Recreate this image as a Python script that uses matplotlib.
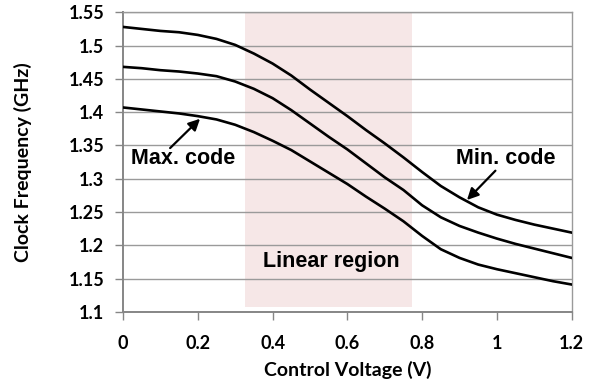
import numpy as np
import matplotlib
matplotlib.use('Agg')
import matplotlib.pyplot as plt

# Control voltage (V) sample points
volts = [0.0, 0.05, 0.1, 0.15, 0.2, 0.25, 0.3, 0.35, 0.4, 0.45, 0.5, 0.55, 0.6,
         0.65, 0.7, 0.75, 0.8, 0.85, 0.9, 0.95, 1.0, 1.05, 1.1, 1.15, 1.2]

# Clock frequency (GHz) for the three codes
freq_min_code = [1.528, 1.525, 1.522, 1.520, 1.516, 1.510, 1.501, 1.488, 1.473,
                 1.455, 1.434, 1.414, 1.394, 1.373, 1.353, 1.332, 1.310, 1.289,
                 1.272, 1.257, 1.246, 1.238, 1.231, 1.225, 1.219]
freq_mid_code = [1.468, 1.466, 1.463, 1.461, 1.458, 1.454, 1.446, 1.435, 1.421,
                 1.403, 1.383, 1.363, 1.344, 1.323, 1.302, 1.283, 1.260, 1.242,
                 1.229, 1.219, 1.210, 1.202, 1.195, 1.188, 1.181]
freq_max_code = [1.407, 1.404, 1.401, 1.398, 1.394, 1.389, 1.381, 1.370, 1.357,
                 1.343, 1.326, 1.309, 1.292, 1.273, 1.255, 1.236, 1.214, 1.194,
                 1.181, 1.171, 1.164, 1.158, 1.152, 1.146, 1.141]

linear_region = (0.325, 0.773)
x_ticks = [0, 0.2, 0.4, 0.6, 0.8, 1.0, 1.2]
x_tick_labels = ['0', '0.2', '0.4', '0.6', '0.8', '1', '1.2']
y_ticks = [1.1, 1.15, 1.2, 1.25, 1.3, 1.35, 1.4, 1.45, 1.5, 1.55]
y_tick_labels = ['1.1', '1.15', '1.2', '1.25', '1.3', '1.35', '1.4', '1.45', '1.5', '1.55']

TICK_FONT = 'Lato'
NOTE_FONT = 'Liberation Sans'
GRID = '#9a9a9a'

fig = plt.figure(figsize=(5.98, 3.84), dpi=100)
ax = fig.add_axes([0.2057, 0.188, 0.7503, 0.780])

# shaded linear region (stops just above the x axis, like the original)
ax.fill_between(linear_region, 1.1065, 1.55, color='#f6e7e7', lw=0, zorder=0.2)

for series in (freq_min_code, freq_mid_code, freq_max_code):
    ax.plot(volts, series, color='black', lw=1.9, solid_joinstyle='round', zorder=3)

ax.set_xlim(0, 1.2)
ax.set_ylim(1.1, 1.55)
ax.set_xticks(x_ticks)
ax.set_xticklabels(x_tick_labels)
ax.set_yticks(y_ticks)
ax.set_yticklabels(y_tick_labels)
ax.yaxis.grid(True, color=GRID, lw=1.0)
ax.set_axisbelow(True)

for side in ('top', 'right'):
    ax.spines[side].set_color(GRID)
    ax.spines[side].set_linewidth(1.0)
for side in ('left', 'bottom'):
    ax.spines[side].set_color('#868686')
    ax.spines[side].set_linewidth(1.4)

ax.tick_params(axis='both', direction='out', length=5.5, width=1.0, color='#868686',
               labelsize=13)
for lab in ax.get_xticklabels() + ax.get_yticklabels():
    lab.set_fontfamily(TICK_FONT)
    lab.set_fontweight('bold')
ax.tick_params(axis='x', pad=11)
ax.tick_params(axis='y', pad=8)

ax.set_xlabel('Control Voltage (V)', fontfamily=TICK_FONT, fontweight='bold',
              fontsize=14)
ax.set_ylabel('Clock Frequency (GHz)', fontfamily=TICK_FONT, fontweight='bold',
              fontsize=14)
ax.xaxis.set_label_coords(0.5, -0.165)
ax.yaxis.set_label_coords(-0.203, 0.5)

arrow = dict(arrowstyle='-|>', color='black', lw=1.6, mutation_scale=17,
             shrinkA=0, shrinkB=0)
ax.annotate('', xy=(0.206, 1.390), xytext=(0.126, 1.346), arrowprops=arrow, zorder=4)
ax.text(0.16, 1.331, 'Max. code', ha='center', va='center', fontsize=15.5,
        fontfamily=NOTE_FONT, fontweight='bold', zorder=4)

ax.annotate('', xy=(0.920, 1.268), xytext=(0.996, 1.312), arrowprops=arrow, zorder=4)
ax.text(1.023, 1.330, 'Min. code', ha='center', va='center', fontsize=15.5,
        fontfamily=NOTE_FONT, fontweight='bold', zorder=4)

ax.text(0.558, 1.176, 'Linear region', ha='center', va='center', fontsize=15.5,
        fontfamily=NOTE_FONT, fontweight='bold', zorder=4)

fig.savefig('out.png', dpi=100)
